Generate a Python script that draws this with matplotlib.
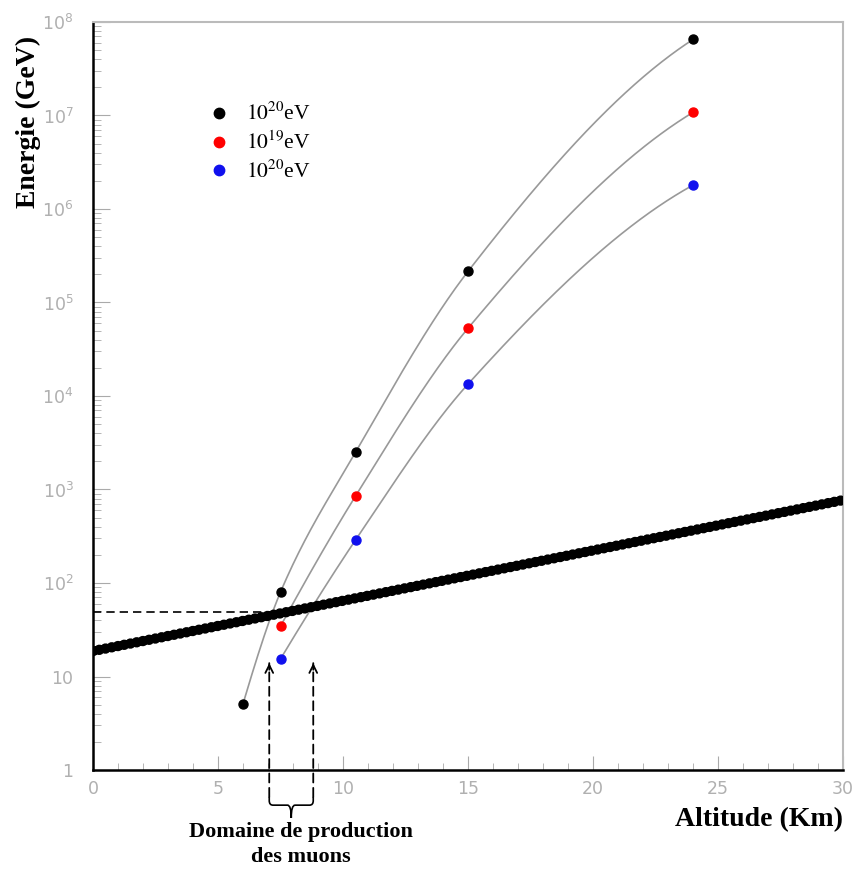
import numpy as np
import matplotlib
matplotlib.use("Agg")
import matplotlib.pyplot as plt
from matplotlib.path import Path
from matplotlib.patches import PathPatch

plt.rcParams['mathtext.fontset'] = 'stix'

# donnees
alt_1e20a = [6.0, 7.5, 10.5, 15.0, 24.0]
e_1e20a = [5.1, 80, 2500, 2.15e5, 6.5e7]

alt_1e19 = [7.5, 10.5, 15.0, 24.0]
e_1e19 = [34.5, 850, 5.3e4, 1.08e7]

alt_1e20b = [7.5, 10.5, 15.0, 24.0]
e_1e20b = [15.4, 288, 1.34e4, 1.8e6]

# droite d'energie seuil (extremites)
alt_seuil = [0.0, 30.0]
e_seuil = [18.7, 770]

# domaine de production des muons
alt_domaine = [7.05, 8.81]
e_fleche = 13.9
e_croisement = 48.6

labels = ["$10^{20}$eV", "$10^{19}$eV", "$10^{20}$eV"]
couleurs = ["black", "#ff0000", "#1010ee"]

yticks = [1, 10, 1e2, 1e3, 1e4, 1e5, 1e6, 1e7, 1e8]
ytick_labels = ["1", "10"] + ["$\\mathdefault{10^{%d}}$" % k for k in range(2, 9)]


def courbe_lisse(x, y, n=300):
    # hermite monotone (pchip) en log10
    x = np.asarray(x, float)
    ly = np.log10(y)
    h = np.diff(x)
    d = np.diff(ly) / h
    m = np.zeros_like(ly)
    for k in range(1, len(x) - 1):
        if d[k - 1] * d[k] > 0:
            w1 = 2 * h[k] + h[k - 1]
            w2 = h[k] + 2 * h[k - 1]
            m[k] = (w1 + w2) / (w1 / d[k - 1] + w2 / d[k])
    m[0] = ((2 * h[0] + h[1]) * d[0] - h[0] * d[1]) / (h[0] + h[1])
    m[-1] = ((2 * h[-1] + h[-2]) * d[-1] - h[-1] * d[-2]) / (h[-1] + h[-2])
    xs = np.linspace(x[0], x[-1], n)
    i = np.clip(np.searchsorted(x, xs) - 1, 0, len(x) - 2)
    t = (xs - x[i]) / h[i]
    h00 = 2 * t**3 - 3 * t**2 + 1
    h10 = t**3 - 2 * t**2 + t
    h01 = -2 * t**3 + 3 * t**2
    h11 = t**3 - t**2
    ys = h00 * ly[i] + h10 * h[i] * m[i] + h01 * ly[i + 1] + h11 * h[i] * m[i + 1]
    return xs, 10 ** ys


fig = plt.figure(figsize=(8.58, 8.69), dpi=100)
ax = fig.add_axes([93 / 858, 99 / 869, 750 / 858, 748 / 869])
ax.set_yscale("log")
ax.set_xlim(0, 30)
ax.set_ylim(1, 1e8)

series = [(alt_1e20a, e_1e20a), (alt_1e19, e_1e19), (alt_1e20b, e_1e20b)]
for (x, y), c, lab in zip(series, couleurs, labels):
    xs, ys = courbe_lisse(x, y)
    ax.plot(xs, ys, color="#999999", lw=1.2, zorder=2)
    ax.plot(x, y, 'o', color=c, ms=6.5, zorder=4, label=lab)

# droite en pointilles epais (points noirs)
ax.plot(alt_seuil, e_seuil, color="black", lw=7.5, linestyle=(0, (0.01, 0.6)),
        dash_capstyle="round", zorder=3)

# ligne horizontale en tirets
ax.plot([0, alt_domaine[0]], [e_croisement, e_croisement], color="black",
        lw=1.2, linestyle=(0, (5, 3)), zorder=3)

# fleches verticales
tr = ax.get_xaxis_transform()
y_bras = -0.036
for xa in alt_domaine:
    ax.annotate("", xy=(xa, e_fleche), xycoords="data", xytext=(xa, y_bras), textcoords=tr,
                arrowprops=dict(arrowstyle="-", linestyle=(0, (5, 3)), lw=1.3, color="black",
                                shrinkA=0, shrinkB=0), annotation_clip=False)
    ax.annotate("", xy=(xa, e_fleche), xycoords="data", xytext=(xa, e_fleche * 0.85),
                arrowprops=dict(arrowstyle="->", lw=1.3, color="black", shrinkA=0, shrinkB=0,
                                mutation_scale=14), annotation_clip=False)

# accolade
xl, xr = alt_domaine
xm = (xl + xr) / 2
y1, y2 = -0.047, -0.064
verts = [(xl, y_bras), (xl, y1 + 0.006), (xl, y1), (xl + 0.15, y1),
         (xm - 0.15, y1), (xm, y1), (xm, y2),
         (xm, y1), (xm + 0.15, y1),
         (xr - 0.15, y1), (xr, y1), (xr, y1 + 0.006), (xr, y_bras)]
codes = [Path.MOVETO, Path.LINETO, Path.CURVE3, Path.CURVE3,
         Path.LINETO, Path.CURVE3, Path.CURVE3,
         Path.CURVE3, Path.CURVE3,
         Path.LINETO, Path.CURVE3, Path.CURVE3, Path.LINETO]
ax.add_patch(PathPatch(Path(verts, codes), transform=tr, fill=False, lw=1.2,
                       edgecolor="black", clip_on=False))

fig.text(301 / 858, 1 - 832 / 869, "Domaine de production", ha="center", va="center",
         family="Liberation Serif", weight="bold", fontsize=16)
fig.text(301 / 858, 1 - 857 / 869, "des muons", ha="center", va="center",
         family="Liberation Serif", weight="bold", fontsize=16)

# axes
ax.set_xticks(range(0, 31, 5))
ax.set_xticks(range(0, 31), minor=True)
ax.set_yticks(yticks)
ax.set_yticklabels(ytick_labels)
ax.tick_params(which="both", direction="in", colors="#aaaaaa", labelcolor="#b0b0b0",
               labelsize=12.5, top=False, right=False)
ax.tick_params(axis="x", which="major", length=10, pad=7)
ax.tick_params(axis="x", which="minor", length=5)
ax.tick_params(axis="y", which="major", length=12, pad=14)
ax.tick_params(axis="y", which="minor", length=6)

ax.spines["left"].set_linewidth(1.8)
ax.spines["bottom"].set_linewidth(1.8)
ax.spines["top"].set_color("#bbbbbb")
ax.spines["right"].set_color("#bbbbbb")
ax.spines["top"].set_linewidth(1.5)
ax.spines["right"].set_linewidth(1.5)

fig.text(843 / 858, 1 - 820 / 869, "Altitude (Km)", ha="right", va="center",
         family="Liberation Serif", weight="bold", fontsize=20)
fig.text(28 / 858, 1 - 122 / 869, "Energie (GeV)", ha="center", va="center", rotation=90,
         family="Liberation Serif", weight="bold", fontsize=20)

ax.legend(loc="upper left", bbox_to_anchor=(208 / 858, 1 - 103 / 869),
          bbox_transform=fig.transFigure, frameon=False, borderpad=0, borderaxespad=0,
          handlelength=1, handletextpad=0.75, labelspacing=0.3, markerscale=1.15,
          prop={"family": "Liberation Serif", "size": 15.5})

fig.savefig("out.png", dpi=100)
